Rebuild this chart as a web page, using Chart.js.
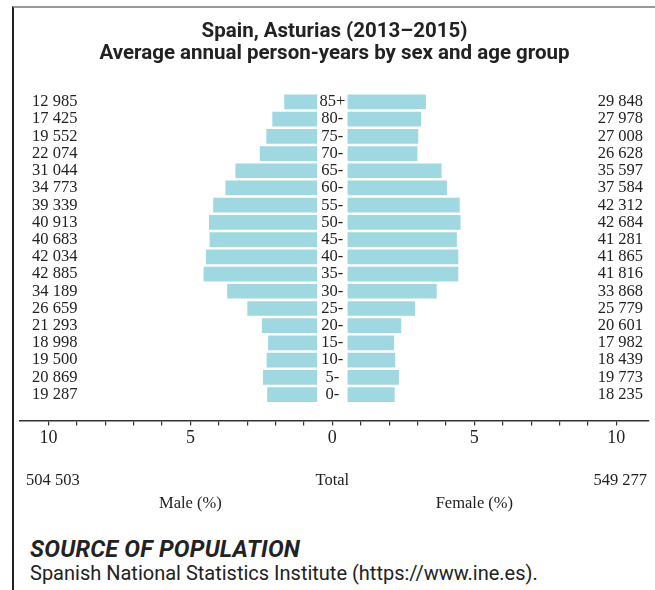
<!DOCTYPE html>
<html lang="en">
<head>
  <meta charset="UTF-8">
  <title>Spain, Asturias (2013–2015)</title>
  <script src="https://cdn.jsdelivr.net/npm/chart.js"></script>
  <style>
    body { margin: 0; background: #fff; width: 655px; height: 590px; position: relative; overflow: hidden; }
    #frame { position: absolute; left: 12px; top: 6px; width: 660px; height: 600px;
             border-top: 2px solid #999; border-left: 2px solid #222; }
    #wrap { position: absolute; left: 0; top: 0; width: 655px; height: 520px; }
    .src { position: absolute; left: 30px; color: #222; font-family: Roboto, sans-serif; white-space: nowrap; }
    #srcTitle { top: 536px; font-size: 23.5px; line-height: 26px; font-weight: bold; font-style: italic; letter-spacing: 0.2px; }
    #srcText { top: 561px; font-size: 20px; line-height: 24px; }
  </style>
</head>
<body>
  <div id="frame"></div>
  <div id="wrap"><canvas id="pyramid"></canvas></div>
  <div class="src" id="srcTitle">SOURCE OF POPULATION</div>
  <div class="src" id="srcText">Spanish National Statistics Institute (https://www.ine.es).</div>

  <script>
    // age groups, top to bottom
    const ages = ['85+', '80-', '75-', '70-', '65-', '60-', '55-', '50-', '45-',
                  '40-', '35-', '30-', '25-', '20-', '15-', '10-', '5-', '0-'];

    // person-years
    const maleCounts = [12985, 17425, 19552, 22074, 31044, 34773, 39339, 40913, 40683,
                        42034, 42885, 34189, 26659, 21293, 18998, 19500, 20869, 19287];
    const femaleCounts = [29848, 27978, 27008, 26628, 35597, 37584, 42312, 42684, 41281,
                          41865, 41816, 33868, 25779, 20601, 17982, 18439, 19773, 18235];

    // share of the whole population (%)
    const malePct = [1.23, 1.65, 1.86, 2.09, 2.95, 3.30, 3.73, 3.88, 3.86,
                     3.99, 4.07, 3.24, 2.53, 2.02, 1.80, 1.85, 1.98, 1.83];
    const femalePct = [2.83, 2.66, 2.56, 2.53, 3.38, 3.57, 4.02, 4.05, 3.92,
                       3.97, 3.97, 3.21, 2.45, 1.96, 1.71, 1.75, 1.88, 1.73];

    const maleTotal = 504503;
    const femaleTotal = 549277;
    const labelledTicks = [-10, -5, 0, 5, 10];

    const gap = 0.5;   // room for the age labels in the middle
    const barColor = 'rgb(160, 216, 226)';
    const textColor = '#222';
    const serif = "'Liberation Serif', serif";

    const fmt = n => String(n).replace(/\B(?=(\d{3})+(?!\d))/g, ' ');

    const textPlugin = {
      id: 'pyramidText',
      afterDraw(chart) {
        const ctx = chart.ctx;
        const x = chart.scales.x, y = chart.scales.y;
        const area = chart.chartArea;
        ctx.save();
        ctx.fillStyle = textColor;
        ctx.font = '16.5px ' + serif;
        ctx.textBaseline = 'middle';
        ages.forEach((a, i) => {
          const py = y.getPixelForValue(i);
          ctx.textAlign = 'center';
          ctx.fillText(a, x.getPixelForValue(0), py);
          ctx.textAlign = 'left';
          ctx.fillText(fmt(maleCounts[i]), 32, py);
          ctx.textAlign = 'right';
          ctx.fillText(fmt(femaleCounts[i]), 643, py);
        });
        const ty = area.bottom + 60;
        ctx.textAlign = 'left';
        ctx.fillText(fmt(maleTotal), 26, ty);
        ctx.textAlign = 'center';
        ctx.fillText('Total', x.getPixelForValue(0), ty);
        ctx.textAlign = 'right';
        ctx.fillText(fmt(femaleTotal), 647, ty);
        ctx.textAlign = 'center';
        ctx.fillText('Male (%)', x.getPixelForValue(-5), ty + 23);
        ctx.fillText('Female (%)', x.getPixelForValue(5), ty + 23);
        ctx.restore();
      }
    };

    new Chart(document.getElementById('pyramid'), {
      type: 'bar',
      data: {
        datasets: [
          {
            label: 'Male',
            data: ages.map((a, i) => ({ y: i, x: [-(malePct[i] + gap), -gap] })),
            backgroundColor: barColor,
            borderColor: 'rgba(255, 255, 255, 0.5)',
            borderWidth: 1,
            borderSkipped: false
          },
          {
            label: 'Female',
            data: ages.map((a, i) => ({ y: i, x: [gap, femalePct[i] + gap] })),
            backgroundColor: barColor,
            borderColor: 'rgba(255, 255, 255, 0.5)',
            borderWidth: 1,
            borderSkipped: false
          }
        ]
      },
      options: {
        indexAxis: 'y',
        responsive: true,
        maintainAspectRatio: false,
        animation: false,
        grouped: false,
        barPercentage: 1,
        categoryPercentage: 0.97,
        layout: { padding: { left: 20, right: 6, bottom: 69 } },
        plugins: {
          legend: { display: false },
          tooltip: { enabled: false },
          title: {
            display: true,
            text: ['Spain, Asturias (2013–2015)', 'Average annual person-years by sex and age group'],
            color: textColor,
            font: { family: 'Roboto', size: 20.5, weight: 'bold', lineHeight: 1.08 },
            padding: { top: 21, bottom: 28 }
          }
        },
        scales: {
          y: {
            type: 'linear',
            min: -0.5,
            max: 18.5,
            reverse: true,
            offset: false,
            display: false
          },
          x: {
            type: 'linear',
            min: -11,
            max: 11.15,
            afterBuildTicks: scale => {
              scale.ticks = scale.ticks.filter(t => Math.abs(t.value) <= 10 && Number.isInteger(t.value));
            },
            border: { display: true, color: '#333', width: 1.5 },
            grid: { drawOnChartArea: false, drawTicks: true, tickLength: 5, color: '#333', lineWidth: 1.2 },
            ticks: {
              stepSize: 1,
              autoSkip: false,
              maxRotation: 0,
              padding: 2,
              color: textColor,
              font: { family: 'Liberation Serif', size: 18 },
              callback: v => labelledTicks.includes(v) ? String(Math.abs(v)) : ''
            }
          }
        }
      },
      plugins: [textPlugin]
    });
  </script>
</body>
</html>
